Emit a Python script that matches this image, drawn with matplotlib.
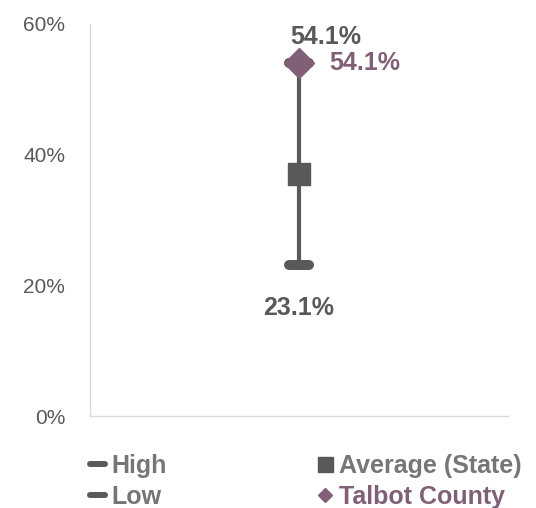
import matplotlib.pyplot as plt
from matplotlib.lines import Line2D
from matplotlib.markers import MarkerStyle

plt.rcParams['font.family'] = ['Liberation Sans', 'DejaVu Sans']

# data (percent)
category = ['Talbot County']
high = [54.1]
low = [23.1]
average = [37.0]
county = [54.1]
y_ticks = [0, 20, 40, 60]

dark = '#595959'
purple = '#806076'
legend_gray = '#767676'

fig = plt.figure(figsize=(5.36, 5.08), dpi=100)
ax = fig.add_axes([0.168, 0.1811, 0.78, 0.7717])

x = [0]
cap = MarkerStyle('_', capstyle='round')

# high-low line
ax.vlines(x, low, high, color=dark, linewidth=3, zorder=2)
ax.plot(x, high, linestyle='none', marker=cap, markersize=15, markeredgewidth=7.2, color=dark, zorder=3)
ax.plot(x, low, linestyle='none', marker=cap, markersize=15, markeredgewidth=7.2, color=dark, zorder=3)
ax.plot(x, average, linestyle='none', marker='s', markersize=16.5, color=dark, zorder=4)
ax.plot(x, county, linestyle='none', marker='D', markersize=15, color=purple, zorder=5)

# data labels
for xi, v in zip(x, high):
    ax.annotate(f'{v:.1f}%', (xi, v), xytext=(19.5, 13.4), textcoords='offset points',
                ha='center', va='baseline', fontsize=18, fontweight='bold', color=dark)
for xi, v in zip(x, low):
    ax.annotate(f'{v:.1f}%', (xi, v), xytext=(0, -36), textcoords='offset points',
                ha='center', va='baseline', fontsize=18, fontweight='bold', color=dark)
for xi, v in zip(x, county):
    ax.annotate(f'{v:.1f}%', (xi, v), xytext=(21.6, -5.3), textcoords='offset points',
                ha='left', va='baseline', fontsize=18, fontweight='bold', color=purple)

ax.set_xlim(-0.5, 0.5)
ax.set_ylim(0, 60)
ax.set_yticks(y_ticks)
ax.set_yticklabels([f'{t}%' for t in y_ticks])
ax.set_xticks([])
ax.tick_params(axis='y', length=0, labelsize=15, labelcolor=dark, pad=18)
for s in ['top', 'right']:
    ax.spines[s].set_visible(False)
for s in ['left', 'bottom']:
    ax.spines[s].set_color('#d9d9d9')
    ax.spines[s].set_linewidth(1)

handles = [
    Line2D([], [], linestyle='none', marker=cap, markersize=10.8, markeredgewidth=4.3, color=dark),
    Line2D([], [], linestyle='none', marker=cap, markersize=10.8, markeredgewidth=4.3, color=dark),
    Line2D([], [], linestyle='none', marker='s', markersize=10.8, color=dark),
    Line2D([], [], linestyle='none', marker='D', markersize=7.6, color=purple),
]
labels = ['High', 'Low', 'Average (State)', 'Talbot County']
leg = fig.legend(handles, labels, ncol=2, loc='upper left', bbox_to_anchor=(0.1623, 0.1063),
                 frameon=False, borderpad=0, borderaxespad=0,
                 handlelength=0.84, handletextpad=0.15, columnspacing=5.89,
                 labelspacing=0.29, prop={'size': 18, 'weight': 'bold'})
for t, c in zip(leg.get_texts(), [legend_gray, legend_gray, legend_gray, purple]):
    t.set_color(c)

fig.savefig('out.png', dpi=100)
